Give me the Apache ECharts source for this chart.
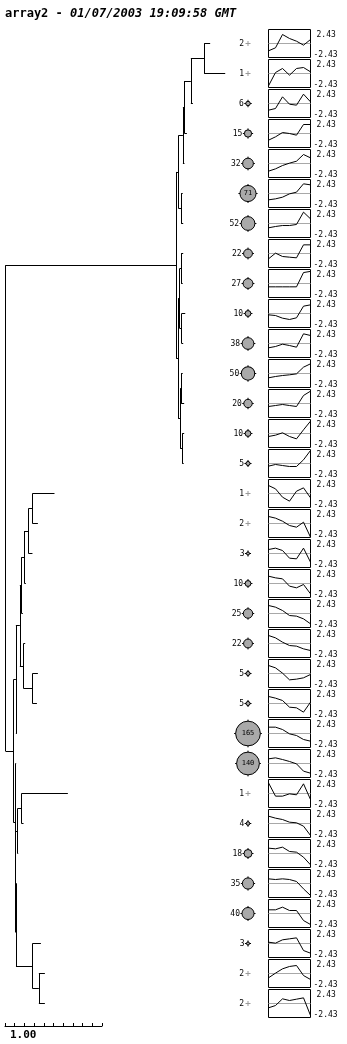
<!DOCTYPE html>
<html><head><meta charset="utf-8">
<script src="https://cdn.jsdelivr.net/npm/echarts@6/dist/echarts.min.js"></script>
<style>html,body{margin:0;padding:0;background:#fff}#c{width:347px;height:1044px}</style>
</head><body><div id="c"></div>
<script>
// ---------- data ----------
const titleName = 'array2';
const titleStamp = '01/07/2003 19:09:58 GMT';
const counts = [2,1,6,15,32,71,52,22,27,10,38,50,20,10,5,1,2,3,10,25,22,5,5,165,140,1,4,18,35,40,3,2,2];
const profileMin = -2.43;
const profileMax = 2.43;
const profiles = [
  [-1.27,-0.75,1.56,0.87,0.40,-0.29,0.69],
  [-2.14,0.17,0.87,-0.29,0.87,1.04,0.29],
  [-1.16,-0.87,1.16,-0.12,-0.29,1.62,0.29],
  [-1.16,-0.58,0.17,0.00,-0.29,1.56,1.56],
  [-1.33,-0.93,-0.35,0.06,0.40,1.56,0.98],
  [-1.10,-0.93,-0.64,-0.06,0.23,1.68,1.50],
  [-0.75,-0.52,-0.35,-0.35,-0.17,1.97,0.81],
  [-0.93,0.06,-0.52,-0.64,-0.75,1.50,1.50],
  [-0.58,-0.58,-0.58,-0.58,-0.58,1.90,2.10],
  [-0.23,-0.35,-0.81,-1.04,-0.75,1.27,1.50],
  [-0.75,-0.52,-0.12,-0.35,-0.64,1.68,1.39],
  [-0.75,-0.52,-0.35,-0.23,-0.06,1.10,1.68],
  [-0.52,-0.35,-0.17,-0.35,-0.52,1.39,2.14],
  [-0.52,-0.29,0.12,-0.52,-0.93,0.64,2.14],
  [-0.46,-0.17,-0.35,-0.52,-0.52,0.64,2.26],
  [1.39,0.81,-0.64,-1.33,0.40,0.98,-0.75],
  [1.22,0.93,0.40,-0.35,-0.64,0.23,-2.37],
  [0.69,0.93,0.52,-0.81,-0.93,0.93,-1.50],
  [1.27,0.98,0.81,-0.46,-0.75,-0.17,-1.79],
  [1.39,1.10,0.52,-0.35,-0.46,-0.93,-1.79],
  [1.39,0.98,0.23,-0.35,-0.46,-0.93,-1.22],
  [1.39,0.98,0.06,-1.10,-0.98,-0.75,-0.17],
  [1.22,0.93,0.52,-0.64,-0.75,-1.50,0.23],
  [1.10,1.10,0.69,-0.06,-0.35,-1.04,-1.33],
  [0.81,0.98,0.69,0.35,-0.06,-1.33,-1.68],
  [1.85,-0.46,-0.46,-0.06,-0.23,1.68,-1.04],
  [1.27,0.93,0.69,0.23,0.12,-0.46,-2.08],
  [0.93,0.81,1.10,0.35,0.23,-0.64,-1.97],
  [0.81,0.69,0.81,0.69,0.35,-0.93,-2.08],
  [0.64,0.64,1.10,0.52,0.52,-1.22,-1.91],
  [0.23,0.06,0.64,0.81,0.98,-1.22,-1.68],
  [-0.75,0.06,0.81,1.22,1.39,-0.35,-1.04],
  [-0.75,-0.35,0.81,0.52,0.75,0.98,-2.08]
];
// distance of each leaf from the root
const leafDepth = [2.110,2.265,1.932,1.870,1.845,1.827,1.832,1.832,1.827,1.853,1.832,1.827,1.842,1.842,1.837,
  0.505,0.334,0.278,0.210,0.179,0.203,0.334,0.324,0.117,0.110,0.643,0.186,0.131,0.115,0.115,0.365,0.406,0.406];
// joins: [childA, childB, node depth]; ids >= 33 refer to earlier joins (33 = first join)
const merges = [
  [0,1,2.048],[33,2,1.911],[34,3,1.845],[35,4,1.829],[5,6,1.811],[36,37,1.784],
  [7,8,1.811],[9,10,1.816],[39,40,1.796],[11,12,1.811],[13,14,1.822],[42,43,1.801],
  [41,44,1.780],[38,45,1.760],
  [15,16,0.278],[47,17,0.237],[48,18,0.196],[49,19,0.165],[21,22,0.278],[20,51,0.186],
  [50,52,0.148],[53,23,0.107],[25,26,0.165],[55,27,0.124],[28,29,0.110],[31,32,0.344],
  [30,58,0.278],[57,59,0.108],[56,60,0.105],[24,61,0.103],[54,62,0.082],[46,63,0]
];
const scaleLength = 1.0;
const scaleStep = 0.1;
const scaleLabel = '1.00';

// ---------- build ----------
const MONO = 'DejaVu Sans Mono';
const nRows = counts.length;
const depth = leafDepth.slice();
const ypos = counts.map((_, i) => i);
const segs = [];
merges.forEach(([a, b, d]) => {
  depth.push(d); ypos.push((ypos[a] + ypos[b]) / 2);
  segs.push({coords: [[d, ypos[a]], [d, ypos[b]]]});
  segs.push({coords: [[d, ypos[a]], [depth[a], ypos[a]]]});
  segs.push({coords: [[d, ypos[b]], [depth[b], ypos[b]]]});
});

const rowTop = 43.5, rowStep = 30;
const grids = [
  {left: 5.5, top: rowTop, width: 242.5, height: rowStep * (nRows - 1)},
  {left: 240, top: rowTop, width: 16, height: rowStep * (nRows - 1)},
  {left: 5, top: 1025, width: 97, height: 1}
];
const xAxes = [
  {gridIndex: 0, type: 'value', min: 0, max: 2.5, show: false},
  {gridIndex: 1, type: 'value', min: 0, max: 1, show: false},
  {gridIndex: 2, type: 'value', min: 0, max: scaleLength, interval: scaleStep, position: 'bottom',
   axisLine: {show: true, onZero: false, lineStyle: {color: '#000', width: 1}},
   axisTick: {show: true, inside: true, length: 3, lineStyle: {color: '#000'}},
   axisLabel: {show: false}, splitLine: {show: false},
   name: scaleLabel, nameLocation: 'start', nameGap: -5,
   nameTextStyle: {align: 'left', verticalAlign: 'top', padding: [4, 0, 0, 0], fontFamily: MONO, fontWeight: 'bold', fontSize: 11, color: '#000'}}
];
const yAxes = [
  {gridIndex: 0, type: 'value', min: 0, max: nRows - 1, inverse: true, show: false},
  {gridIndex: 1, type: 'value', min: 0, max: nRows - 1, inverse: true, show: false},
  {gridIndex: 2, type: 'value', min: 0, max: 1, show: false}
];
const series = [
  {type: 'lines', coordinateSystem: 'cartesian2d', xAxisIndex: 0, yAxisIndex: 0, polyline: false,
   silent: true, lineStyle: {color: '#000', width: 1, opacity: 1}, data: segs}
];

const dia = n => 1.95 * Math.sqrt(n) - 0.3;
const smallData = [], tickData = [], circleData = [];
counts.forEach((n, i) => {
  if (n <= 2) {
    smallData.push({value: [0.5, i], symbolSize: 5,
      label: {show: true, position: 'left', distance: 1.5, formatter: String(n), fontFamily: MONO, fontSize: 8, color: '#000'}});
  } else {
    tickData.push({value: [0.5, i], symbolSize: dia(n) + 3});
    const inside = n >= 71;
    circleData.push({value: [0.5, i], symbolSize: dia(n),
      label: {show: true, position: inside ? 'inside' : 'left', distance: 1.5, formatter: String(n),
        fontFamily: MONO, fontSize: inside ? 7 : 8, color: '#000'}});
  }
});
series.push(
  {type: 'scatter', xAxisIndex: 1, yAxisIndex: 1, silent: true, z: 3,
   symbol: 'path://M4,0h2v10h-2zM0,4h10v2h-10z', itemStyle: {color: '#9a9a9a', opacity: 1}, data: smallData},
  {type: 'scatter', xAxisIndex: 1, yAxisIndex: 1, silent: true, z: 3,
   symbol: 'path://M0,5L10,5M5,0L5,10', itemStyle: {color: 'rgba(0,0,0,0)', borderColor: '#000', borderWidth: 1, opacity: 1}, data: tickData},
  {type: 'scatter', xAxisIndex: 1, yAxisIndex: 1, silent: true, z: 4,
   symbol: 'circle', itemStyle: {color: '#a9a9a9', borderColor: '#000', borderWidth: 1, opacity: 1}, data: circleData}
);

profiles.forEach((vals, i) => {
  const gi = grids.length;
  grids.push({left: 268.5, top: 29.5 + rowStep * i, width: 42, height: 28, show: true,
    borderColor: '#000', borderWidth: 1, backgroundColor: 'transparent'});
  xAxes.push({gridIndex: gi, type: 'value', min: 0, max: vals.length - 1, show: false});
  yAxes.push({gridIndex: gi, type: 'value', min: profileMin, max: profileMax, interval: profileMax,
    position: 'right', axisLine: {show: false}, axisTick: {show: false}, splitLine: {show: false},
    axisLabel: {show: true, margin: 3, color: '#000', fontFamily: MONO, fontSize: 8,
      formatter: v => v > 0 ? '{t|' + v.toFixed(2) + '}' : (v < 0 ? '{b|' + v.toFixed(2) + '}' : ''),
      rich: {t: {padding: [10, 0, 0, 3], fontFamily: MONO, fontSize: 8, color: '#000'},
             b: {padding: [0, 0, 5, 0], fontFamily: MONO, fontSize: 8, color: '#000'}}}});
  series.push({type: 'line', xAxisIndex: gi, yAxisIndex: gi, silent: true, z: 2,
    showSymbol: false, symbol: 'none', lineStyle: {color: '#000', width: 1},
    data: vals.map((v, k) => [k, v]),
    markLine: {silent: true, z: 1, symbol: ['none', 'none'], label: {show: false},
      lineStyle: {color: '#a8a8a8', type: 'solid', width: 1}, emphasis: {disabled: true},
      data: [{yAxis: 0}]}});
});

const chart = echarts.init(document.getElementById('c'), null, {renderer: 'canvas'});
chart.setOption({
  animation: false,
  backgroundColor: '#fff',
  title: {left: 5, top: 8, padding: 0, text: '{a|' + titleName + ' - }{b|' + titleStamp + '}',
    textStyle: {rich: {
      a: {fontFamily: MONO, fontWeight: 'bold', fontSize: 12, color: '#000'},
      b: {fontFamily: MONO, fontWeight: 'bold', fontStyle: 'italic', fontSize: 12, color: '#000'}}}},
  grid: grids, xAxis: xAxes, yAxis: yAxes, series: series
});
</script></body></html>
